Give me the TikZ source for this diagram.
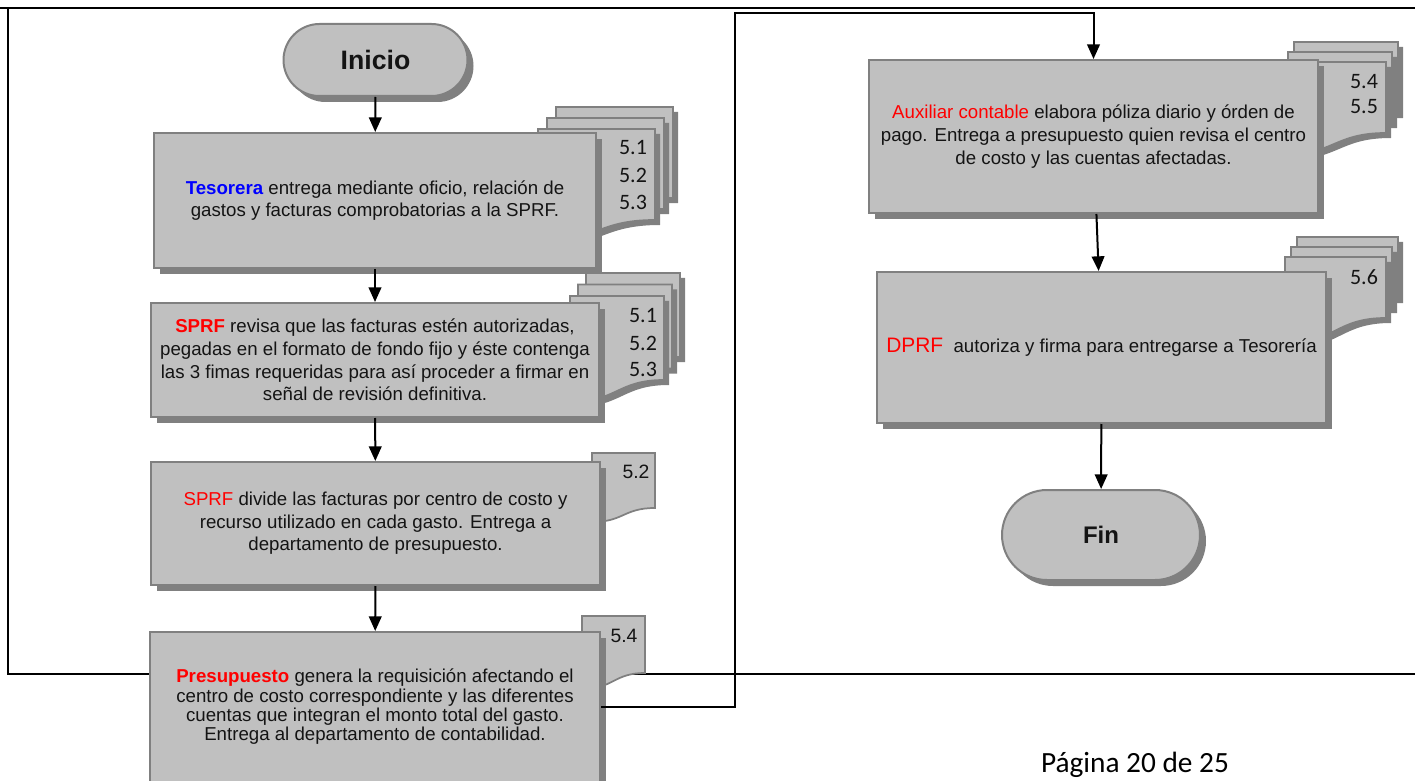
\documentclass[tikz,border=0pt]{standalone}
\usepackage{fontspec}
\setmainfont{Liberation Sans}
\newfontfamily\calfont{Carlito}
\usetikzlibrary{arrows.meta,shadows,shapes.misc}
\definecolor{boxfill}{HTML}{C0C0C0}
\definecolor{boxline}{HTML}{808080}
\definecolor{shadec}{HTML}{808080}
\definecolor{tblue}{HTML}{0000FF}
\definecolor{tred}{HTML}{FF0000}
\definecolor{txtc}{HTML}{141414}
% #1 shadow (1/0), #2 x1, #3 y1, #4 x2, #5 y of right bottom, #6 wave depth
\newcommand\dsheet[6]{%
\ifnum#1=1
 \fill[shadec,shift={(5,5)}] (#2,#3) -- (#4,#3) -- (#4,#5) .. controls ({0.5*(#2+#4)},#5) and ({0.5*(#2+#4)},{#5+#6}) .. (#2,{#5+#6}) -- cycle;
\fi
 \filldraw[fill=boxfill,draw=boxline,line width=1.3pt] (#2,#3) -- (#4,#3) -- (#4,#5) .. controls ({0.5*(#2+#4)},#5) and ({0.5*(#2+#4)},{#5+#6}) .. (#2,{#5+#6}) -- cycle;
}
% stack of three: #1 x1, #2 y1, #3 x2, #4 yr, #5 d, #6 dx, #7 dy
\newcommand\dstack[7]{%
 \dsheet{1}{#1+2*#6}{#2-2*#7}{#3+2*#6}{#4-2*#7}{#5}
 \dsheet{1}{#1+#6}{#2-#7}{#3+#6}{#4-#7}{#5}
 \dsheet{1}{#1}{#2}{#3}{#4}{#5}
}
\begin{document}
\begin{tikzpicture}[x=0.75pt,y=-0.75pt,
 boxsize/.style 2 args={minimum width=#1*0.75pt, minimum height=#2*0.75pt},
 procbox/.style={rectangle, draw=boxline, line width=1.5pt, fill=boxfill, text=txtc,
   align=center, inner sep=0pt, font=\fontsize{14}{17}\selectfont,
   drop shadow={shadow xshift=4.5pt, shadow yshift=-4.5pt, fill=shadec, opacity=1}},
 termbox/.style={rounded rectangle, draw=boxline, line width=1.5pt, fill=boxfill, text=txtc,
   inner sep=0pt, font=\bfseries\fontsize{20}{24}\selectfont,
   drop shadow={shadow xshift=4.5pt, shadow yshift=-4.5pt, fill=shadec, opacity=1}},
 conn/.style={line width=1.5pt, -{Triangle[width=9.5pt,length=11pt]}},
 wire/.style={line width=1.5pt},
 doclabel/.style={font=\calfont\fontsize{16.5}{19}\selectfont, text=txtc, inner sep=0pt},
 doclabelb/.style={font=\fontsize{14.5}{17}\selectfont, text=txtc, inner sep=0pt}
]
\useasboundingbox (0,0) rectangle (1415,781);
\fill[white] (0,0) rectangle (1415,781);

% page frame
\draw[line width=2.2pt] (0,8) -- (1415,8);
\draw[line width=1.5pt] (8,8) -- (8,674) -- (1415,674);

% document sheets
\dstack{538}{129}{655}{220}{22}{9}{11}
\dstack{570}{296}{664}{380}{22}{8}{11.5}
\dsheet{0}{592}{453}{655}{508}{14}
\dsheet{0}{582}{616}{645}{673}{16}
\dstack{1282}{62}{1386}{133}{22}{6}{10}
\dstack{1285}{257}{1386}{318}{25}{6}{10}

\node[doclabel] (l11) at (633,148) {5.1};
\node[doclabel] (l12) at (633,175) {5.2};
\node[doclabel] (l13) at (633,202) {5.3};
\node[doclabel] (l21) at (643,316) {5.1};
\node[doclabel] (l22) at (643,343) {5.2};
\node[doclabel] (l23) at (643,369) {5.3};
\node[doclabelb] (l32) at (636,472) {5.2};
\node[doclabelb] (l44) at (624,636) {5.4};
\node[doclabel] (l54) at (1364,82) {5.4};
\node[doclabel] (l55) at (1364,107) {5.5};
\node[doclabel] (l56) at (1364,277) {5.6};

% process boxes
\node[termbox, boxsize={184}{72}] (ini) at (375.5,60) {Inicio};
\node[procbox, boxsize={442}{135}] (b1) at (375,200.5)
 {{\bfseries\color{tblue}Tesorera} entrega mediante oficio, relación de\\gastos y facturas comprobatorias a la SPRF.};
\node[procbox, boxsize={448}{114}] (b2) at (375,360)
 {{\bfseries\color{tred}SPRF} revisa que las facturas estén autorizadas,\\pegadas en el formato de fondo fijo y éste contenga\\las 3 fimas requeridas para así proceder a firmar en\\señal de revisión definitiva.};
\node[procbox, boxsize={449}{123}] (b3) at (375.5,523.5)
 {{\color{tred}SPRF} divide las facturas por centro de costo y\\recurso utilizado en cada gasto. Entrega a\\departamento de presupuesto.};
\node[procbox, boxsize={450}{150}, font=\fontsize{14}{14.5}\selectfont] (b4) at (375,707)
 {{\bfseries\color{tred}Presupuesto} genera la requisición afectando el\\centro de costo correspondiente y las diferentes\\cuentas que integran el monto total del gasto.\\Entrega al departamento de contabilidad.};
\node[procbox, boxsize={449}{153}] (aux) at (1093.5,136.5)
 {{\color{tred}Auxiliar contable} elabora póliza diario y órden de\\pago. Entrega a presupuesto quien revisa el centro\\de costo y las cuentas afectadas.};
\node[procbox, boxsize={449}{151}] (dprf) at (1101.5,347.5)
 {{\color{tred}\fontsize{15.7}{18}\selectfont DPRF}\ \ autoriza y firma para entregarse a Tesorería};
\node[termbox, boxsize={198}{90}, font=\bfseries\fontsize{18}{22}\selectfont] (fin) at (1101,535) {Fin};

% connectors
\coordinate (c1) at (735,13);
\draw[conn] (ini) -- (b1);
\draw[conn] (b1) -- (b2);
\draw[conn] (b2) -- (b3);
\draw[conn] (b3) -- (b4);
\draw[conn] (b4.east) -| (c1) -| (aux.north);
\draw[conn] (aux) -- (dprf);
\draw[conn] (dprf) -- (fin);

\node[font=\calfont\fontsize{22}{26}\selectfont, text=black] (pg) at (1135,765) {Página 20 de 25};
\end{tikzpicture}
\end{document}
